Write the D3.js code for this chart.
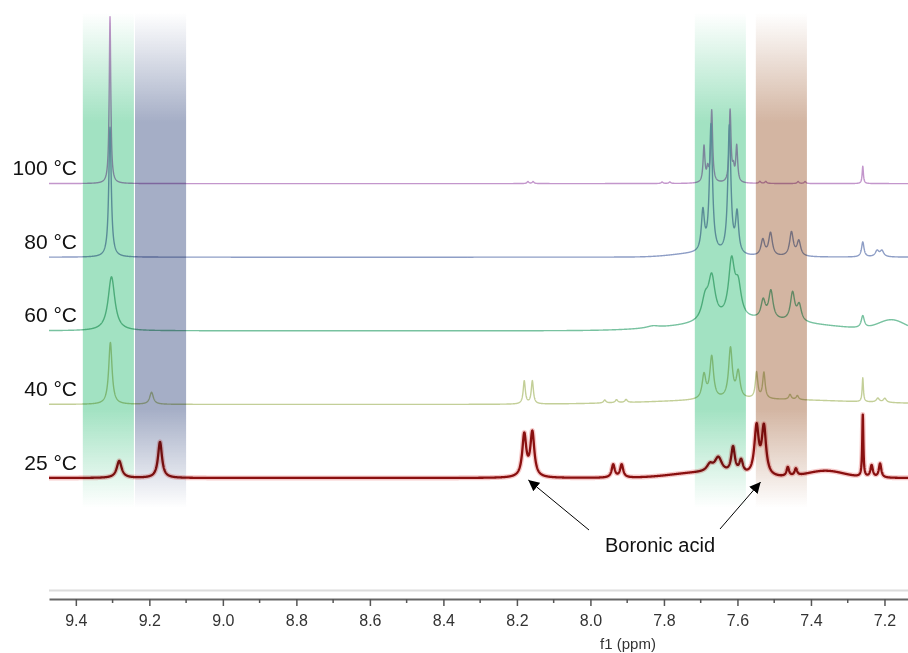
<!DOCTYPE html>
<html>
<head>
<meta charset="utf-8">
<script src="https://cdn.jsdelivr.net/npm/d3@7"></script>
<style>
  body { margin: 0; background: #fff; }
  svg { display: block; font-family: "Liberation Sans", Arial, Helvetica, sans-serif; }
</style>
</head>
<body>
<svg id="chart" width="908" height="653"></svg>
<script>
// spectra, top to bottom
const temps = ["100 °C", "80 °C", "60 °C", "40 °C", "25 °C"];

// sharp peaks: [ppm, height, half width (ppm)]
const peaks100 = [
  [9.307, 167, 0.0025],
  [8.170, 2, 0.003], [8.156, 2, 0.003],
  [7.805, 1.5, 0.003], [7.784, 1.5, 0.003],
  [7.691, 36, 0.003], [7.681, 12, 0.003], [7.670, 72, 0.003],
  [7.620, 72, 0.003], [7.611, 12, 0.003], [7.602, 36, 0.003],
  [7.539, 2, 0.003], [7.523, 2, 0.003], [7.435, 2, 0.003], [7.416, 2, 0.003],
  [7.259, 17.5, 0.002]
];
const peaks80 = [
  [9.307, 130, 0.004],
  [7.694, 40, 0.005], [7.672, 128, 0.005], [7.622, 128, 0.005], [7.601, 40, 0.005],
  [7.531, 16, 0.006], [7.510, 23, 0.006], [7.453, 24, 0.006], [7.433, 15, 0.006],
  [7.259, 15, 0.004], [7.220, 6, 0.006], [7.207, 6, 0.006]
];
const peaks60 = [
  [9.303, 54, 0.011],
  [7.830, 2, 0.02],
  [7.688, 20, 0.011], [7.670, 42, 0.011], [7.616, 56, 0.010], [7.598, 30, 0.010],
  [7.530, 18, 0.007], [7.509, 28, 0.007], [7.450, 28, 0.007], [7.432, 16, 0.007],
  [7.259, 12, 0.005]
];
const peaks40 = [
  [9.306, 62, 0.0055],
  [9.194, 12, 0.006],
  [8.180, 23, 0.0035], [8.158, 23, 0.0035],
  [7.961, 3, 0.004], [7.929, 3, 0.004], [7.903, 3, 0.004],
  [7.691, 24, 0.006], [7.670, 42, 0.006], [7.619, 50, 0.006], [7.598, 26, 0.006],
  [7.548, 26, 0.004], [7.528, 26, 0.004], [7.457, 5, 0.004], [7.437, 4, 0.004],
  [7.259, 24, 0.002], [7.218, 4, 0.005], [7.199, 4, 0.005]
];
const peaks25 = [
  [9.282, 17, 0.008], [9.171, 36, 0.0065],
  [8.180, 42, 0.0065], [8.158, 44, 0.0065],
  [7.938, 13, 0.005], [7.915, 13, 0.005],
  [7.675, 7, 0.01], [7.652, 15, 0.012], [7.612, 26, 0.006], [7.590, 13, 0.006],
  [7.548, 48, 0.007], [7.528, 48, 0.007], [7.463, 9, 0.004], [7.441, 7, 0.004],
  [7.259, 62, 0.0018], [7.235, 12, 0.004], [7.212, 14, 0.004]
];

// broad baseline humps: [ppm, height, sigma (ppm)]
const humps100 = [];
const humps80 = [[7.72, 3, 0.06]];
const humps60 = [[7.55, 10, 0.17], [7.18, 10, 0.035]];
const humps40 = [[7.55, 5, 0.25]];
const humps25 = [[7.70, 5, 0.08], [7.36, 7, 0.05]];

const peakLists = [peaks100, peaks80, peaks60, peaks40, peaks25];
const humpLists = [humps100, humps80, humps60, humps40, humps25];
const stackStep = 73.6;

// highlighted regions [from ppm, to ppm]
const bandRanges = [[9.381, 9.242], [9.239, 9.100], [7.716, 7.577], [7.550, 7.411]];

// axis
const majorTicks = [9.4, 9.2, 9.0, 8.8, 8.6, 8.4, 8.2, 8.0, 7.8, 7.6, 7.4, 7.2];
const minorTicks = [9.3, 9.1, 8.9, 8.7, 8.5, 8.3, 8.1, 7.9, 7.7, 7.5, 7.3];
const axisTitle = "f1 (ppm)";

// annotation
const noteLabel = "Boronic acid";
const noteTargets = [8.169, 7.537];

// styles
const lineColors = ["#c396cc", "#8e9ec6", "#78c2a0", "#c3cf98", "#8a1010"];
const bandColors = ["#a2e2c2", "#a5aec6", "#a2e2c2", "#d3b5a2"];

const svg = d3.select("#chart");
const x = d3.scaleLinear().domain([9.473, 7.136]).range([49, 908]);
const y = d3.scaleLinear().domain([0, 470]).range([478, 8]);

const grid = d3.range(9.473, 7.136, -0.0005);
function intensity(ppm, peaks, humps) {
  let s = 0;
  for (const [p, h, w] of peaks) {
    const d = (ppm - p) / w;
    s += h / (1 + d * d);
  }
  for (const [p, h, sg] of humps) {
    const d = (ppm - p) / sg;
    s += h * Math.exp(-0.5 * d * d);
  }
  return s;
}

const specG = svg.append("g");
temps.forEach((t, i) => {
  const off = (temps.length - 1 - i) * stackStep;
  const pts = grid.map(p => [p, off + intensity(p, peakLists[i], humpLists[i])]);
  const line = d3.line().x(d => x(d[0])).y(d => y(d[1]));
  if (i === temps.length - 1) {
    specG.append("path").attr("d", line(pts)).attr("fill", "none")
      .attr("stroke", "#e05050").attr("stroke-opacity", 0.3).attr("stroke-width", 5)
      .attr("stroke-linejoin", "round");
    specG.append("path").attr("d", line(pts)).attr("fill", "none")
      .attr("stroke", lineColors[i]).attr("stroke-width", 2.3).attr("stroke-linejoin", "round");
  } else {
    specG.append("path").attr("d", line(pts)).attr("fill", "none")
      .attr("stroke", lineColors[i]).attr("stroke-width", 1.4).attr("stroke-linejoin", "round");
  }
});

// bands with vertical fade, multiplied over the spectra
const defs = svg.append("defs");
bandColors.forEach((c, i) => {
  const g = defs.append("linearGradient").attr("id", "band" + i)
    .attr("x1", 0).attr("x2", 0).attr("y1", 0).attr("y2", 1);
  g.append("stop").attr("offset", "0%").attr("stop-color", c).attr("stop-opacity", 0);
  g.append("stop").attr("offset", "22%").attr("stop-color", c).attr("stop-opacity", 1);
  g.append("stop").attr("offset", "80%").attr("stop-color", c).attr("stop-opacity", 1);
  g.append("stop").attr("offset", "100%").attr("stop-color", c).attr("stop-opacity", 0);
});
svg.append("g").selectAll("rect").data(bandRanges).join("rect")
  .attr("x", d => x(d[0]))
  .attr("width", d => x(d[1]) - x(d[0]))
  .attr("y", 13).attr("height", 495)
  .attr("fill", (d, i) => `url(#band${i})`)
  .style("mix-blend-mode", "multiply");

// temperature labels
svg.append("g").selectAll("text").data(temps).join("text")
  .attr("x", 77)
  .attr("y", (d, i) => y((temps.length - 1 - i) * stackStep) - 8.5)
  .attr("text-anchor", "end")
  .attr("font-size", 21)
  .attr("fill", "#111")
  .text(d => d);

// annotation arrows
defs.append("marker").attr("id", "head")
  .attr("viewBox", "0 0 10 10").attr("refX", 10).attr("refY", 5)
  .attr("markerWidth", 11).attr("markerHeight", 11).attr("markerUnits", "userSpaceOnUse")
  .attr("orient", "auto")
  .append("path").attr("d", "M0,0L10,5L0,10z").attr("fill", "#000");
const tails = [[589, 530], [720, 529]];
svg.append("g").selectAll("line").data(noteTargets).join("line")
  .attr("x1", (d, i) => tails[i][0]).attr("y1", (d, i) => tails[i][1])
  .attr("x2", d => x(d)).attr("y2", (d, i) => i === 0 ? 480 : 482)
  .attr("stroke", "#000").attr("stroke-width", 1)
  .attr("marker-end", "url(#head)");
svg.append("text").attr("x", 660).attr("y", 552).attr("text-anchor", "middle")
  .attr("font-size", 20).attr("fill", "#111").text(noteLabel);

// axis
svg.append("line").attr("x1", 49).attr("x2", 908).attr("y1", 590.5).attr("y2", 590.5)
  .attr("stroke", "#dcdcdc").attr("stroke-width", 2);
const axisG = svg.append("g").attr("transform", "translate(0,599)");
axisG.call(d3.axisBottom(x).tickValues(majorTicks).tickFormat(d3.format(".1f"))
  .tickSize(7).tickSizeOuter(0));
axisG.select(".domain").attr("stroke", "#666").attr("stroke-width", 2);
axisG.selectAll(".tick line").attr("stroke", "#555").attr("stroke-width", 1.5);
axisG.selectAll(".tick text").attr("font-size", 16).attr("fill", "#333")
  .attr("font-family", "Liberation Sans, Arial, sans-serif").attr("dy", "1.05em");
axisG.append("g").selectAll("line").data(minorTicks).join("line")
  .attr("x1", d => x(d)).attr("x2", d => x(d)).attr("y1", 0).attr("y2", 4)
  .attr("stroke", "#555").attr("stroke-width", 1.5);
svg.append("text").attr("x", 628).attr("y", 649).attr("text-anchor", "middle")
  .attr("font-size", 15).attr("fill", "#333").text(axisTitle);
</script>
</body>
</html>
